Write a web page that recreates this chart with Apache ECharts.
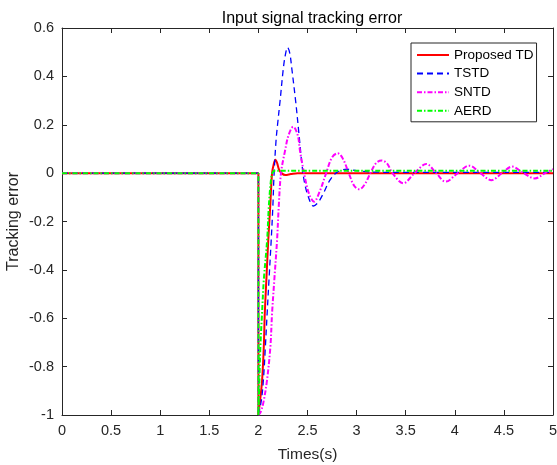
<!DOCTYPE html>
<html><head><meta charset="utf-8">
<script src="https://cdn.jsdelivr.net/npm/echarts@6/dist/echarts.min.js"></script>
<style>html,body{margin:0;padding:0;background:#fff}#c{width:557px;height:465px}</style>
</head><body><div id="c"></div>
<script>
// Shared pre-step portion (0 until t=2, then step to -1)
const preTime  = [0, 2, 2];
const preValue = [0, 0, -1];

// Proposed TD (red, solid)
const propTime  = [2.0, 2.02, 2.038, 2.055, 2.065, 2.081, 2.1, 2.12, 2.139, 2.155, 2.173, 2.19, 2.21, 2.235, 2.275, 2.33, 2.4, 2.6, 3.0, 4.0, 5.0];
const propValue = [-1, -0.93, -0.855, -0.718, -0.58, -0.442, -0.28, -0.14, 0, 0.035, 0.055, 0.042, 0.015, 0, -0.008, -0.004, 0, 0, 0, 0, 0];

// TSTD (blue, dashed)
const tstdTime  = [2.0, 2.03, 2.051, 2.071, 2.089, 2.108, 2.13, 2.147, 2.16, 2.18, 2.195, 2.221, 2.254, 2.275, 2.297, 2.32, 2.34, 2.38, 2.414, 2.445, 2.47, 2.51, 2.56, 2.61, 2.661, 2.73, 2.8, 2.9, 3.0, 3.2, 3.5, 5.0];
const tstdValue = [-1, -0.94, -0.855, -0.718, -0.58, -0.44, -0.28, -0.139, 0, 0.137, 0.2, 0.3, 0.433, 0.49, 0.52, 0.495, 0.433, 0.295, 0.158, 0.03, -0.04, -0.1, -0.136, -0.12, -0.084, -0.028, 0.003, 0.016, 0.01, 0.004, 0.003, 0.003];

// SNTD (magenta, dash-dot)
const sntdTime  = [2.0, 2.02, 2.05, 2.088, 2.122, 2.139, 2.162, 2.19, 2.207, 2.23, 2.27, 2.308, 2.355, 2.40, 2.425, 2.465, 2.515, 2.567, 2.625, 2.69, 2.75, 2.808, 2.86, 2.92, 2.975, 3.028, 3.085, 3.14, 3.2, 3.255, 3.31, 3.365, 3.475, 3.59, 3.71, 3.81, 3.906, 4.03, 4.147, 4.26, 4.374, 4.48, 4.584, 4.70, 4.815, 4.92, 5.0];
const sntdValue = [-1, -0.99, -0.95, -0.855, -0.718, -0.58, -0.442, -0.277, -0.139, 0, 0.09, 0.158, 0.192, 0.158, 0.088, 0, -0.085, -0.118, -0.075, 0, 0.065, 0.082, 0.06, 0, -0.052, -0.067, -0.045, 0, 0.042, 0.052, 0.04, 0, -0.042, 0, 0.038, 0, -0.035, 0, 0.031, 0, -0.029, 0, 0.027, 0, -0.022, 0, 0.016];

// AERD (green, dash-dot)
const aerdTime  = [2.0, 2.01, 2.02, 2.037, 2.055, 2.089, 2.106, 2.125, 2.142, 2.167, 2.3, 5.0];
const aerdValue = [-1, -0.855, -0.718, -0.58, -0.442, -0.277, -0.139, -0.04, 0.0, 0.01, 0.01, 0.01];

const names = ['Proposed TD', 'TSTD', 'SNTD', 'AERD'];
const xTickStep = 0.5, yTickStep = 0.2;

function zip(t, v) { return t.map((x, i) => [x, v[i]]); }

const styles = [
  { color: '#ff0000', width: 2, type: 'solid' },
  { color: '#0000ff', width: 1.3, type: [6, 4] },
  { color: '#ff00ff', width: 2, type: [5, 2, 1.5, 2] },
  { color: '#00ff00', width: 2, type: [5, 2, 1.5, 2] }
];
const posts = [zip(propTime, propValue), zip(tstdTime, tstdValue), zip(sntdTime, sntdValue), zip(aerdTime, aerdValue)];

const series = [];
names.forEach((n, i) => {
  const s = styles[i];
  const base = { name: n, type: 'line', symbol: 'none', showSymbol: false, animation: false,
    xAxisIndex: 0, yAxisIndex: 0, color: s.color,
    lineStyle: { color: s.color, width: s.width, type: s.type } };
  series.push(Object.assign({}, base, { data: zip(preTime, preValue), smooth: false }));
  series.push(Object.assign({}, base, { data: posts[i], smooth: 0.35 }));
});

const axisCol = '#262626';
const FF = 'Liberation Sans, Arial, sans-serif';
const chart = echarts.init(document.getElementById('c'), null, { renderer: 'canvas' });
chart.setOption({
  backgroundColor: '#fff',
  animation: false,
  title: {
    text: 'Input signal tracking error', left: 307, top: 6, textAlign: 'center',
    textStyle: { fontFamily: FF, fontSize: 16, fontWeight: 'normal', color: '#000' }
  },
  grid: { left: 62, top: 28, width: 491, height: 387, containLabel: false, outerBoundsMode: 'none' },
  legend: {
    data: names, orient: 'vertical', left: 411, top: 43,
    itemWidth: 32, itemHeight: 14, itemGap: 4.6,
    padding: [5, 3, 4, 5],
    borderColor: axisCol, borderWidth: 1, backgroundColor: '#fff',
    itemStyle: { opacity: 0, borderWidth: 0 },
    textStyle: { fontFamily: FF, fontSize: 13.5, color: '#000' }
  },
  xAxis: [
    { type: 'value', min: 0, max: 5, interval: xTickStep, position: 'bottom',
      name: 'Times(s)', nameLocation: 'middle', nameGap: 32, nameMoveOverlap: false,
      nameTextStyle: { fontFamily: FF, fontSize: 15.5, color: axisCol },
      axisLine: { show: true, onZero: false, lineStyle: { color: axisCol, width: 1 } },
      axisTick: { show: true, inside: true, length: 5, lineStyle: { color: axisCol } },
      axisLabel: { show: true, margin: 8, fontFamily: FF, fontSize: 14.5, color: axisCol },
      splitLine: { show: false } },
    { type: 'value', min: 0, max: 5, interval: xTickStep, position: 'top',
      axisLine: { show: true, onZero: false, lineStyle: { color: axisCol, width: 1 } },
      axisTick: { show: true, inside: true, length: 5, lineStyle: { color: axisCol } },
      axisLabel: { show: false }, splitLine: { show: false } }
  ],
  yAxis: [
    { type: 'value', min: -1, max: 0.6, interval: yTickStep, position: 'left',
      name: 'Tracking error', nameLocation: 'middle', nameGap: 40, nameMoveOverlap: false,
      nameTextStyle: { fontFamily: FF, fontSize: 16, color: axisCol },
      axisLine: { show: true, onZero: false, lineStyle: { color: axisCol, width: 1 } },
      axisTick: { show: true, inside: true, length: 5, lineStyle: { color: axisCol } },
      axisLabel: { show: true, margin: 8, fontFamily: FF, fontSize: 14.5, color: axisCol },
      splitLine: { show: false } },
    { type: 'value', min: -1, max: 0.6, interval: yTickStep, position: 'right',
      axisLine: { show: true, onZero: false, lineStyle: { color: axisCol, width: 1 } },
      axisTick: { show: true, inside: true, length: 5, lineStyle: { color: axisCol } },
      axisLabel: { show: false }, splitLine: { show: false } }
  ],
  series: series
});
</script>
</body></html>
